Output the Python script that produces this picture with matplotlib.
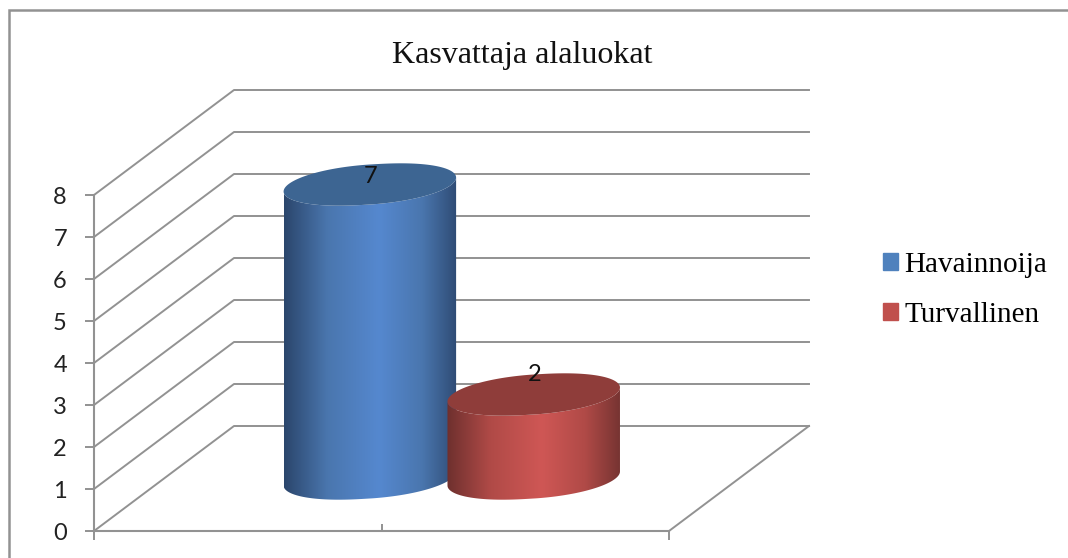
import numpy as np
import matplotlib
matplotlib.use('Agg')
import matplotlib.pyplot as plt
from matplotlib.patches import Patch, Polygon, Rectangle
from matplotlib.colors import LinearSegmentedColormap

title = 'Kasvattaja alaluokat'
series = ['Havainnoija', 'Turvallinen']
values = [7, 2]
value_ticks = [0, 1, 2, 3, 4, 5, 6, 7, 8]
bar_x = [0.358, 0.643]
bar_width = 0.30
label_offset = [0.19, 0.48]
legend_colors = ['#4f81bd', '#c0504d']
top_colors = ['#3d6592', '#8f3d3a']
side_colors = [['#2b466c', '#4a76ae', '#5588cf', '#4a76ae', '#2f4c75'],
               ['#6e302e', '#b04a47', '#cf5755', '#b04a47', '#773432']]

W, H = 1068, 558
GRAY = '#929292'
# plot floor/wall geometry, in pixels
X0, X1, Y0, Y8 = 94, 669, 531, 195
# depth of the 3d box in axis units
DX = 140 / (X1 - X0)
DY = 105 / ((Y0 - Y8) / 8)


def cylinder(ax, x, val, width, cmap, top_color):
    """Draws one cylinder standing halfway back in the box"""
    cx = x + DX / 2
    base = DY / 2
    top = base + val
    a = width / 2
    t = np.linspace(0, 2 * np.pi, 300)
    tilt = 7 / 42
    c = 20 / 42
    ex = cx + a * np.sign(np.cos(t)) * np.abs(np.cos(t)) ** 0.92
    ey = tilt * np.cos(t) + c * np.sin(t)
    # side shape: upper edge follows the front of top ellipse, lower the base
    low_x = ex[t >= np.pi]
    low_y = ey[t >= np.pi]
    px = np.concatenate([low_x, low_x[::-1]])
    py = np.concatenate([low_y + base, low_y[::-1] + top])
    side = Polygon(np.column_stack([px, py]), closed=True, fc='none', ec='none',
                   transform=ax.transData)
    ax.add_patch(side)
    im = ax.imshow(np.linspace(0, 1, 256).reshape(1, -1), cmap=cmap, aspect='auto',
                   extent=(cx - a, cx + a, base - 1, top + 1), zorder=3)
    im.set_clip_box(fig.bbox)
    im.set_clip_path(side)
    ax.fill(ex, ey + top, color=top_color, zorder=4, clip_on=False, lw=0)


fig = plt.figure(figsize=(W / 100, H / 100), dpi=100)
fig.add_artist(Rectangle((9 / W, 1 - 600 / H), 1100 / W, 590 / H, fill=False,
                         ec=GRAY, lw=1.8, transform=fig.transFigure))
ax = fig.add_axes([X0 / W, 1 - Y0 / H, (X1 - X0) / W, (Y0 - Y8) / H])
ax.patch.set_alpha(0)

# gridlines on the wall and the side wall
for v in value_ticks:
    ax.plot([0, DX, 1 + DX], [v, v + DY, v + DY], color=GRAY, lw=1.4, clip_on=False, zorder=1)
ax.plot([1, 1 + DX], [0, DY], color=GRAY, lw=1.4, clip_on=False, zorder=1)

for x, val, cols, tc, off in zip(bar_x, values, side_colors, top_colors, label_offset):
    cmap = LinearSegmentedColormap.from_list('side', list(zip([0, 0.25, 0.55, 0.8, 1], cols)))
    cylinder(ax, x, val, bar_width, cmap, tc)
    ax.text(x + DX / 2 + 0.001, val + DY / 2 + off, str(val), ha='center', va='center',
            fontsize=17, family='Lato', color='#111111', zorder=6, clip_on=False)

ax.set_xlim(0, 1)
ax.set_ylim(0, 8)
ax.set_yticks(value_ticks)
ax.set_xticks([0, 1])
ax.set_xticklabels([])
ax.set_xticks([0.5, 1], minor=True)
ax.tick_params(axis='y', length=6.5, width=1.4, color=GRAY, labelsize=17, labelcolor='#222222', pad=13)
ax.tick_params(axis='x', which='major', length=6.5, width=1.4, color=GRAY)
ax.tick_params(axis='x', which='minor', length=5, width=1.4, color=GRAY, direction='in')
for lab in ax.get_yticklabels():
    lab.set_family('Lato')
for s in ['top', 'right']:
    ax.spines[s].set_visible(False)
for s in ['left', 'bottom']:
    ax.spines[s].set_color(GRAY)
    ax.spines[s].set_linewidth(1.5)

fig.text(522 / W, 1 - 55 / H, title, ha='center', va='center', fontsize=23,
         family='Liberation Serif', color='#111111')

handles = [Patch(color=c) for c in legend_colors]
fig.legend(handles, series, loc='center left', bbox_to_anchor=(857 / W, 1 - 290 / H), frameon=False,
           prop={'family': 'Liberation Serif', 'size': 21}, handlelength=0.52, handleheight=0.52,
           handletextpad=0.2, labelspacing=0.82)

fig.savefig('out.png', dpi=100)
